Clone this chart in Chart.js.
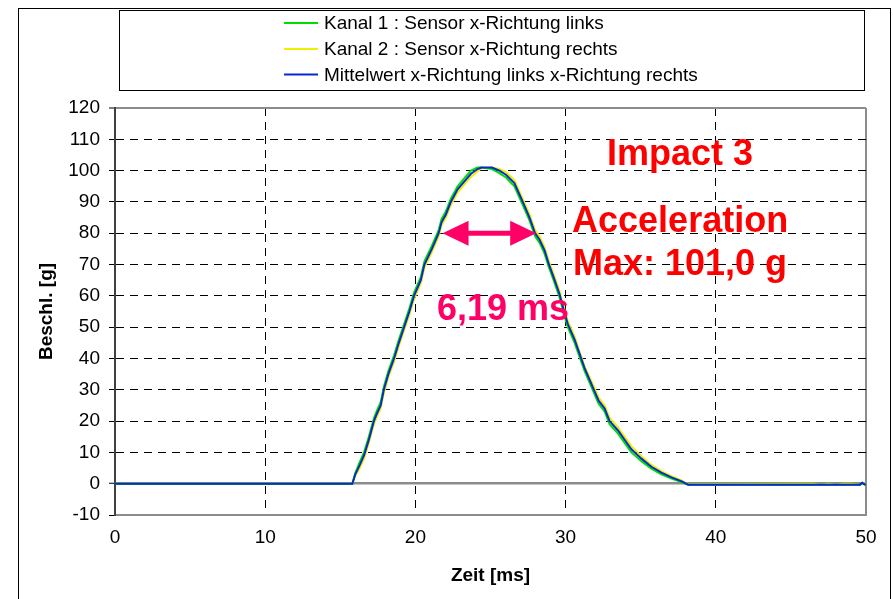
<!DOCTYPE html>
<html><head><meta charset="utf-8">
<script src="https://cdn.jsdelivr.net/npm/chart.js@4.4.1/dist/chart.umd.min.js"></script>
<style>html,body{margin:0;padding:0;background:#fff;}</style>
</head><body>
<canvas id="c" width="893" height="599" style="display:block;width:893px;height:599px"></canvas>
<script>
// ---- data ----
const zeit = [0, 15.8, 16.0, 16.3, 16.58, 16.9, 17.24, 17.45, 17.69, 17.9, 18.2, 18.58, 18.9, 19.25, 19.6, 19.91, 20.36, 20.6, 21.1, 21.55, 21.74, 22.03, 22.36, 22.81, 23.25, 23.7, 24.14, 24.4, 25.1, 25.59, 26.03, 26.59, 27.15, 27.6, 27.97, 28.26, 28.6, 28.86, 29.2, 29.6, 29.9, 30.15, 30.6, 31.26, 31.93, 32.2, 32.6, 32.93, 33.49, 34.38, 35.05, 35.71, 36.38, 37.05, 37.7, 38.16, 46.5, 47.0, 47.5, 48.0, 48.5, 49.0, 49.6, 49.75, 49.9, 50];
const kanal1 = [0, 0, 3.5, 7, 10, 15, 21, 23.5, 26, 31, 36, 41, 46, 51, 56, 61, 66, 71, 76, 81, 84.5, 87, 91, 95, 97.5, 100, 101, 101, 100.5, 99.2, 97.8, 95, 89, 84, 79, 77, 73.5, 69.5, 65, 59.5, 54, 50, 45, 36, 28.5, 25.5, 23, 19, 16, 10, 7.2, 4.8, 3, 1.6, 0.5, -0.3, -0.3, -0.3, -0.3, -0.3, -0.3, -0.3, -0.3, 0.2, -0.3, -0.3];
const kanal2 = [0, 0, 2.5, 5, 8, 13, 19, 21.5, 24, 29, 34, 39, 44, 49, 54, 59, 64, 69, 74, 79, 82.5, 85, 89, 93, 95.5, 98, 99.8, 100.8, 101, 100.5, 99.5, 97, 91, 86, 81, 79, 75.5, 71.5, 67, 61.5, 56, 52, 47, 37.5, 30.5, 27.5, 25, 21, 18, 12, 8.8, 6, 4, 2.4, 1.1, -0.2, 0, -0.3, 0, -0.3, 0, 0, -0.3, 0.3, 0, 0];
const mittelwert = [0, 0, 3, 6, 9, 14, 20, 22.5, 25, 30, 35, 40, 45, 50, 55, 60, 65, 70, 75, 80, 83.5, 86, 90, 94, 96.5, 99, 100.5, 101, 101, 100, 98.7, 96, 90, 85, 80, 78, 74.5, 70.5, 66, 60.5, 55, 51, 46, 37, 29.5, 26.5, 24, 20, 17, 11, 8, 5.4, 3.5, 2, 0.8, -0.3, -0.3, -0.3, -0.3, -0.3, -0.3, -0.3, -0.3, 0.3, -0.2, -0.3];
const seriesNames = ['Kanal 1 : Sensor x-Richtung links', 'Kanal 2 : Sensor x-Richtung rechts', 'Mittelwert x-Richtung links x-Richtung rechts'];
const xTicks = [0, 10, 20, 30, 40, 50];
const yTicks = [-10, 0, 10, 20, 30, 40, 50, 60, 70, 80, 90, 100, 110, 120];
const xTitle = 'Zeit [ms]';
const yTitle = 'Beschl. [g]';
// annotation texts (anchored in data coordinates)
const noteTexts = ['Impact 3', 'Acceleration', 'Max: 101,0 g', '6,19 ms'];
const noteX = [32.76, 30.43, 30.49, 21.44];
const noteY = [101.7, 80.5, 66.7, 52.3];
const arrowFrom = [21.81, 80];
const arrowTo = [28.04, 80];

// ---- styles ----
const FONT = '"Liberation Sans", Arial, sans-serif';
const colors = ['#00dd00', '#f0f000', '#0a28d0'];
const RED = '#ff0000', PINK = '#ff0066';
const noteColors = [RED, RED, RED, PINK];

const mk = arr => zeit.map((t, i) => ({x: t, y: arr[i]}));

const decor = {
  id: 'decor',
  beforeDraw(chart) {
    const c = chart.ctx;
    c.save();
    c.fillStyle = '#fff';
    c.fillRect(0, 0, chart.width, chart.height);
    c.strokeStyle = '#000';
    c.lineWidth = 1;
    c.strokeRect(18.5, 8.5, 872, 700);
    // legend box
    c.strokeRect(119.5, 10.5, 745, 80);
    c.font = '19px ' + FONT;
    c.textBaseline = 'middle';
    c.textAlign = 'left';
    const rows = [23, 49, 74.5];
    chart.data.datasets.forEach((ds, i) => {
      c.strokeStyle = ds.borderColor;
      c.lineWidth = 2;
      c.beginPath();
      c.moveTo(284, rows[i]);
      c.lineTo(318, rows[i]);
      c.stroke();
      c.fillStyle = '#000';
      c.fillText(seriesNames[i], 324, rows[i] + 1);
    });
    c.restore();
  },
  afterDraw(chart) {
    const c = chart.ctx, xs = chart.scales.x, ys = chart.scales.y;
    c.save();
    c.font = 'bold 36px ' + FONT;
    c.textBaseline = 'alphabetic';
    c.textAlign = 'left';
    noteTexts.forEach((t, i) => {
      c.fillStyle = noteColors[i];
      c.fillText(t, xs.getPixelForValue(noteX[i]), ys.getPixelForValue(noteY[i]));
    });
    // double arrow
    const x1 = xs.getPixelForValue(arrowFrom[0]), x2 = xs.getPixelForValue(arrowTo[0]);
    const y = ys.getPixelForValue(arrowFrom[1]);
    const hl = 26, hw = 12.5;
    c.fillStyle = PINK;
    c.fillRect(x1 + hl - 1, y - 2.5, (x2 - x1) - 2 * hl + 2, 5);
    c.beginPath();
    c.moveTo(x1, y); c.lineTo(x1 + hl, y - hw); c.lineTo(x1 + hl, y + hw); c.closePath();
    c.fill();
    c.beginPath();
    c.moveTo(x2, y); c.lineTo(x2 - hl, y - hw); c.lineTo(x2 - hl, y + hw); c.closePath();
    c.fill();
    c.restore();
  }
};

new Chart(document.getElementById('c'), {
  type: 'line',
  data: {
    datasets: [
      {label: seriesNames[0], data: mk(kanal1), borderColor: colors[0], borderWidth: 2, pointRadius: 0, order: 1},
      {label: seriesNames[1], data: mk(kanal2), borderColor: colors[1], borderWidth: 2, pointRadius: 0, order: 2},
      {label: seriesNames[2], data: mk(mittelwert), borderColor: colors[2], borderWidth: 2, pointRadius: 0, order: 0}
    ]
  },
  options: {
    responsive: false,
    animation: false,
    devicePixelRatio: 1,
    layout: {padding: {left: 18, top: 108, right: 27, bottom: 0}},
    plugins: {legend: {display: false}, tooltip: {enabled: false}},
    scales: {
      x: {
        type: 'linear', min: 0, max: 50,
        afterBuildTicks: s => { s.ticks = xTicks.map(v => ({value: v})); },
        afterFit: s => { s.height = 84; },
        ticks: {color: '#000', font: {family: FONT, size: 19}, padding: 11, maxRotation: 0},
        grid: {
          drawTicks: false,
          color: ctx => (ctx.tick && ctx.tick.value === 50) ? '#8c8c8c' : (ctx.tick && ctx.tick.value === 0 ? '#404040' : '#000'),
          lineWidth: ctx => (ctx.tick && (ctx.tick.value === 50 || ctx.tick.value === 0)) ? 2 : 1
        },
        border: {display: true, color: '#8c8c8c', width: 2,
          dash: ctx => (ctx.tick && ctx.tick.value > 0 && ctx.tick.value < 50) ? [8, 6] : []},
        title: {display: true, text: xTitle, color: '#000', font: {family: FONT, size: 19, weight: 'bold'}, padding: {top: 0, bottom: 12}}
      },
      y: {
        type: 'linear', min: -10, max: 120,
        afterBuildTicks: s => { s.ticks = yTicks.map(v => ({value: v})); },
        afterFit: s => { s.width = 97; },
        ticks: {color: '#000', font: {family: FONT, size: 19}, padding: 9},
        grid: {
          drawTicks: true, tickLength: 6, tickColor: '#000', tickWidth: 1,
          color: ctx => (ctx.tick && (ctx.tick.value === 0 || ctx.tick.value === 120 || ctx.tick.value === -10)) ? '#8c8c8c' : '#000',
          lineWidth: ctx => (ctx.tick && ctx.tick.value === 0) ? 2.5 : ((ctx.tick && ctx.tick.value === 120) ? 2 : 1)
        },
        border: {display: true, color: '#404040', width: 2,
          dash: ctx => (ctx.tick && ctx.tick.value > -10 && ctx.tick.value < 120 && ctx.tick.value !== 0) ? [8, 6] : []},
        title: {display: true, text: yTitle, color: '#000', font: {family: FONT, size: 19, weight: 'bold'}, padding: {top: 17, bottom: 0}}
      }
    }
  },
  plugins: [decor]
});
</script>
</body></html>
